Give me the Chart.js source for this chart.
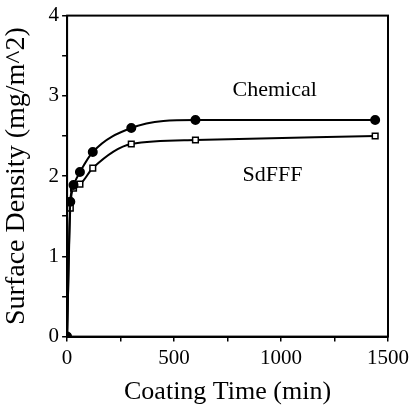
<!DOCTYPE html>
<html>
<head>
<meta charset="utf-8">
<script src="https://cdn.jsdelivr.net/npm/chart.js@4"></script>
<style>
  html, body { margin: 0; padding: 0; background: #fff; }
  #wrap { width: 413px; height: 414px; }
</style>
</head>
<body>
<div id="wrap"><canvas id="surfaceChart" width="413" height="414"></canvas></div>
<script>
// values
const timesMin = [0, 15, 30, 60, 120, 300, 600, 1440];
const chemical = [0, 1.68, 1.89, 2.05, 2.3, 2.6, 2.7, 2.7];
const sdfff = [0, 1.6, 1.85, 1.9, 2.1, 2.4, 2.45, 2.5];
const xTicks = [0, 500, 1000, 1500];
const yTicks = [0, 1, 2, 3, 4];
const seriesLabels = [
    { text: 'Chemical', x: 970, y: 3.07 },
    { text: 'SdFFF', x: 960, y: 2.01 }
];

const serif = '"Liberation Serif", "DejaVu Serif", serif';

// frame round the plot + series names inside the plot
const framePlugin = {
    id: 'frame',
    afterDraw(chart) {
        const { ctx, chartArea: a, scales } = chart;
        ctx.save();
        ctx.strokeStyle = '#000';
        ctx.lineWidth = 2;
        ctx.strokeRect(a.left, a.top, a.right - a.left, a.bottom - a.top);
        ctx.fillStyle = '#000';
        ctx.font = '22px ' + serif;
        ctx.textAlign = 'center';
        ctx.textBaseline = 'middle';
        seriesLabels.forEach(l => {
            ctx.fillText(l.text, scales.x.getPixelForValue(l.x), scales.y.getPixelForValue(l.y));
        });
        ctx.restore();
    }
};

const toPoints = ys => timesMin.map((t, i) => ({ x: t, y: ys[i] }));

new Chart(document.getElementById('surfaceChart'), {
    type: 'line',
    data: {
        datasets: [{
            label: 'Chemical',
            data: toPoints(chemical),
            borderColor: '#000',
            backgroundColor: '#000',
            borderWidth: 2,
            pointStyle: 'circle',
            pointRadius: 4,
            cubicInterpolationMode: 'monotone'
        }, {
            label: 'SdFFF',
            data: toPoints(sdfff),
            borderColor: '#000',
            backgroundColor: '#fff',
            borderWidth: 2,
            pointStyle: 'rect',
            pointRadius: 4,
            pointBorderWidth: 1.5,
            cubicInterpolationMode: 'monotone'
        }]
    },
    options: {
        responsive: false,
        animation: false,
        layout: { padding: { top: 14, right: 21, left: 0, bottom: 6 } },
        plugins: {
            legend: { display: false },
            tooltip: { enabled: false }
        },
        scales: {
            x: {
                type: 'linear',
                min: 0,
                max: 1500,
                border: { color: '#000', width: 2 },
                grid: { drawOnChartArea: false, color: '#000', tickLength: 5, lineWidth: 1.5 },
                ticks: {
                    stepSize: 250,
                    color: '#000',
                    font: { family: serif, size: 21 },
                    maxRotation: 0,
                    padding: 4,
                    callback: v => xTicks.includes(v) ? String(v) : ''
                },
                title: {
                    display: true,
                    text: 'Coating Time (min)',
                    color: '#000',
                    font: { family: serif, size: 26 },
                    padding: { top: 2, bottom: 0 }
                }
            },
            y: {
                min: 0,
                max: 4,
                border: { color: '#000', width: 2 },
                grid: { drawOnChartArea: false, color: '#000', tickLength: 5, lineWidth: 1.5 },
                ticks: {
                    stepSize: 0.5,
                    color: '#000',
                    font: { family: serif, size: 21 },
                    padding: 3,
                    callback: v => yTicks.includes(v) ? String(v) : ''
                },
                title: {
                    display: true,
                    text: 'Surface Density (mg/m^2)',
                    color: '#000',
                    font: { family: serif, size: 28 },
                    padding: { top: 0, bottom: 12 }
                }
            }
        }
    },
    plugins: [framePlugin]
});
</script>
</body>
</html>
